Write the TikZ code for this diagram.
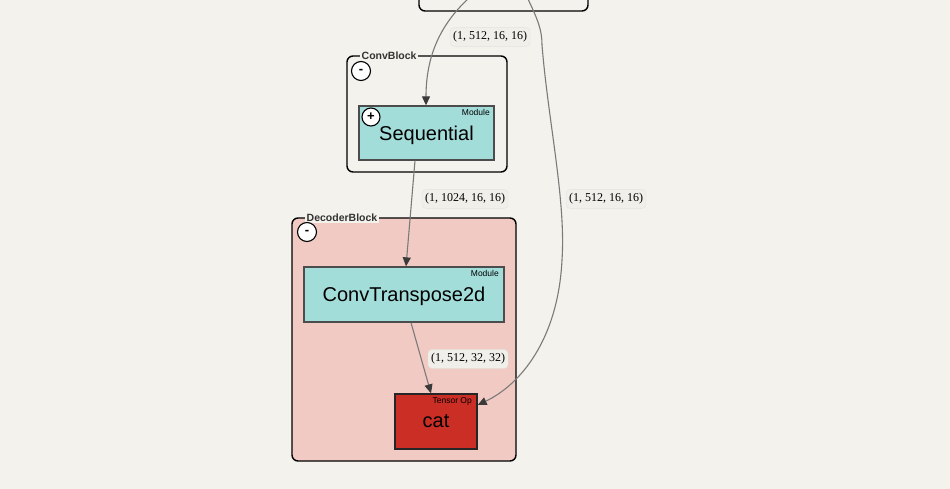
\documentclass[tikz,border=0pt]{standalone}
\usepackage{fontspec}
\setmainfont{Liberation Sans}
\newfontfamily\serifnum{Liberation Serif}
\usetikzlibrary{arrows.meta}
\definecolor{bgc}{HTML}{F3F2EC}
\definecolor{teal}{HTML}{A2DDDA}
\definecolor{pinkc}{HTML}{F1CAC4}
\definecolor{redc}{HTML}{CB2E25}
\definecolor{edgec}{HTML}{7A7A7A}
\definecolor{tipc}{HTML}{3A3A3A}
\definecolor{lblfill}{HTML}{F0EFEA}
\definecolor{lbldraw}{HTML}{E4E3DD}
\tikzset{
  cluster/.style={draw=black, line width=1.4pt, rounded corners=6pt},
  modbox/.style={draw=black!70, line width=1.3pt, minimum width=#1, minimum height=54pt, inner sep=0pt, text depth=0pt, font=\fontsize{20}{24}\selectfont},
  clabel/.style={fill=bgc, inner sep=1.5pt, font=\bfseries\fontsize{10.5}{12}\selectfont, text=black!80},
  tag/.style={font=\fontsize{8.5}{9}\selectfont, inner sep=0pt, anchor=north east},
  toggle/.style={circle, draw=black, line width=1.1pt, fill=white, minimum size=19pt, inner sep=0pt, font=\bfseries\fontsize{13}{13}\selectfont},
  edge/.style={draw=edgec, line width=1.1pt, -{Triangle[length=9pt,width=8pt,fill=tipc,color=tipc]}},
  elabel/.style={fill=lblfill, draw=lbldraw, line width=0.4pt, rounded corners=4pt, inner xsep=3pt, inner ysep=4pt, font=\serifnum\fontsize{12}{14}\selectfont}
}
\begin{document}
\begin{tikzpicture}[x=1pt,y=-1pt]
\fill[bgc] (0,0) rectangle (950,489);
\useasboundingbox (0,0) rectangle (950,489);
% top (cut-off) box
\draw[cluster] (419,-20) rectangle (588,11);
% ConvBlock cluster
\draw[cluster] (347,56) rectangle (507,172);
\node[clabel, anchor=west] (cbl) at (360,56) {ConvBlock};
\node[toggle] (cbt) at (361,71) {-};
% Sequential
\node[modbox=135pt, fill=teal] (seq) at (426.5,133) {Sequential};
\node[tag] (seqtag) at (490,109) {Module};
\node[toggle, minimum size=18pt] (seqt) at (371,117) {+};
% DecoderBlock cluster
\draw[cluster, fill=pinkc] (292,218) rectangle (516,461);
\node[clabel, anchor=west] (dbl) at (305,218) {DecoderBlock};
\node[toggle] (dbt) at (307,232) {-};
% ConvTranspose2d
\node[modbox=200pt, minimum height=55pt, fill=teal] (ct) at (404,294.5) {ConvTranspose2d};
\node[tag] (cttag) at (499,270) {Module};
% cat
\node[modbox=82pt, minimum height=55pt, fill=redc, draw=black!85] (cat) at (436,421.5) {cat};
\node[tag] (cattag) at (472,397) {Tensor Op};
% edges
\coordinate (src1) at (470,-3);
\coordinate (src2) at (527,-3);
\draw[edge] (src1) .. controls (445,20) and (426,50) .. (seq.north -| 426,0);
\draw[edge] (src2) .. controls (538,20) and (542,30) .. (542,45)
  .. controls (548,120) and (566,200) .. (562,260)
  .. controls (558,340) and (520,385) .. (cat.north east |- 0,405);
\draw[edge] (seq.south -| 415,0) -- (ct.north -| 406,0);
\draw[edge] (ct.south -| 411,0) -- (cat.north -| 431,0);
% edge labels
\node[elabel] (l1) at (490,37) {(1, 512, 16, 16)};
\node[elabel] (l2) at (465,199) {(1, 1024, 16, 16)};
\node[elabel] (l3) at (606,199) {(1, 512, 16, 16)};
\node[elabel] (l4) at (468,359) {(1, 512, 32, 32)};
\end{tikzpicture}
\end{document}
